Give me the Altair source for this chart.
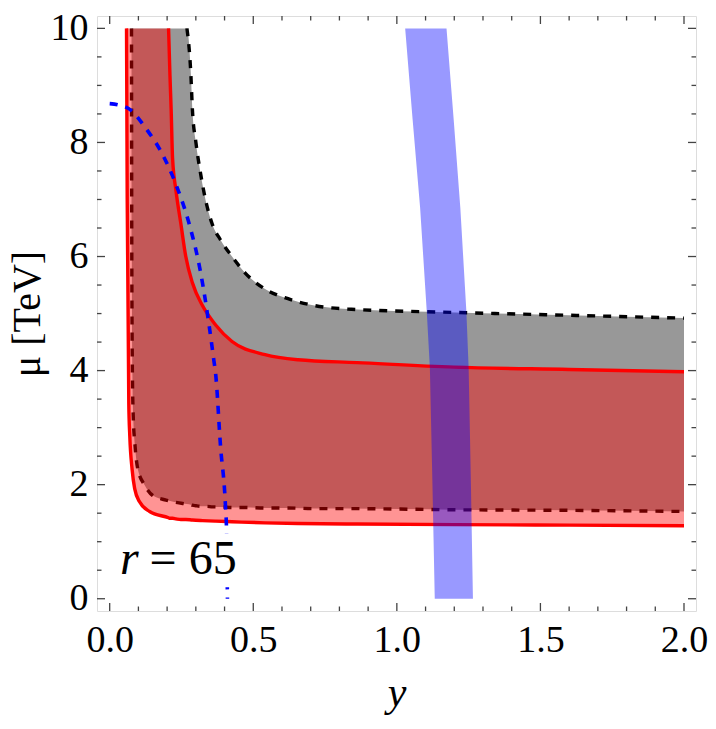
import altair as alt
import pandas as pd

# ---- red (solid-bounded) band: x, lower mu, upper mu
red_x  = [0.0586, 0.061, 0.0665, 0.070, 0.078, 0.087, 0.104, 0.139, 0.205, 0.210, 0.214, 0.219,
          0.231, 0.248, 0.265, 0.288, 0.323, 0.369, 0.426, 0.541, 0.656, 0.862, 1.2, 1.6, 2.0]
red_lo = [10.0, 7.0, 3.42, 2.85, 2.27, 1.93, 1.70, 1.53, 1.42, 1.41, 1.41, 1.41,
          1.40, 1.39, 1.39, 1.38, 1.37, 1.36, 1.35, 1.33, 1.32, 1.31, 1.30, 1.29, 1.28]
red_hi = [10.0, 10.0, 10.0, 10.0, 10.0, 10.0, 10.0, 10.0, 10.0, 9.16, 8.58, 7.72,
          7.15, 6.57, 6.00, 5.54, 5.14, 4.80, 4.51, 4.28, 4.19, 4.14, 4.06, 4.02, 3.98]

# ---- gray (dashed-bounded) band
gray_x  = [0.076, 0.077, 0.079, 0.082, 0.088, 0.098, 0.122, 0.150, 0.196, 0.254, 0.269, 0.283,
           0.288, 0.300, 0.317, 0.340, 0.357, 0.386, 0.426, 0.472, 0.541, 0.621, 0.713, 0.828,
           1.2, 1.6, 2.0]
gray_lo = [10.0, 6.0, 4.0, 3.2, 2.7, 2.27, 1.99, 1.81, 1.73, 1.67, 1.66, 1.65,
           1.64, 1.63, 1.62, 1.62, 1.61, 1.61, 1.60, 1.60, 1.59, 1.59, 1.58, 1.58,
           1.56, 1.55, 1.53]
gray_hi = [10.0, 10.0, 10.0, 10.0, 10.0, 10.0, 10.0, 10.0, 10.0, 10.0, 10.0, 9.16,
           8.58, 8.01, 7.44, 6.86, 6.57, 6.29, 6.00, 5.71, 5.43, 5.26, 5.14, 5.08,
           5.02, 4.97, 4.92]

# ---- r = 65 contour (blue dashed)
r65_x  = [0.0, 0.030, 0.070, 0.127, 0.185, 0.231, 0.277, 0.317, 0.346, 0.363, 0.369, 0.386, 0.403, 0.407, 0.410]
r65_mu = [8.68, 8.66, 8.58, 8.24, 7.78, 7.26, 6.57, 5.71, 4.80, 4.17, 3.94, 2.67, 1.64, 1.18, 0.0]

# ---- blue band (left / right edge vs mu)
blue_mu    = [0.0, 2.0, 4.05, 5.05, 6.86, 8.4, 10.0]
blue_left  = [1.132, 1.124, 1.115, 1.104, 1.081, 1.055, 1.029]
blue_right = [1.265, 1.258, 1.250, 1.242, 1.221, 1.198, 1.173]

# ---- annotation
label_box_x = [0.03, 0.44]
label_box_mu = [0.2, 1.15]
label_r_x, label_eq_x, label_mu = 0.036, 0.139, 0.44

# ---- ticks
x_major = [0.0, 0.5, 1.0, 1.5, 2.0]
x_minor = [0.1, 0.2, 0.3, 0.4, 0.6, 0.7, 0.8, 0.9, 1.1, 1.2, 1.3, 1.4, 1.6, 1.7, 1.8, 1.9]
y_major = [0, 2, 4, 6, 8, 10]
y_minor = [0.5, 1, 1.5, 2.5, 3, 3.5, 4.5, 5, 5.5, 6.5, 7, 7.5, 8.5, 9, 9.5]

W, H = 599, 595
FONT = "Liberation Serif"
XS = alt.Scale(domain=[-0.0442, 2.0418], nice=False, zero=False)
YS = alt.Scale(domain=[-0.215, 10.217], nice=False, zero=False)

red_df = pd.DataFrame({"x": red_x, "lo": red_lo, "hi": red_hi})
gray_df = pd.DataFrame({"x": gray_x, "lo": gray_lo, "hi": gray_hi})
r65_df = pd.DataFrame({"x": r65_x, "mu": r65_mu})
blue_df = pd.DataFrame({"mu": blue_mu, "l": blue_left, "r": blue_right})
box_df = pd.DataFrame({"x": [label_box_x[0]], "x2": [label_box_x[1]],
                       "y": [label_box_mu[0]], "y2": [label_box_mu[1]]})
lab_df = pd.DataFrame({"x": [label_r_x, label_eq_x], "mu": [label_mu, label_mu],
                       "t": ["r", "= 65"]})

x_axis = alt.Axis(values=x_major, format=".1f", ticks=False, tickSize=0, domain=False, grid=False,
                  labelFont=FONT, labelFontSize=38, labelColor="black", labelPadding=10,
                  labelFlush=False, labelOverlap=False,
                  title="y", titleFont=FONT, titleFontStyle="italic", titleFontSize=42,
                  titleFontWeight="normal", titleColor="black", titleX=299.5, titleY=94,
                  titleBaseline="alphabetic", titleAlign="center")
y_axis = alt.Axis(values=y_major, format="d", ticks=False, tickSize=0, domain=False, grid=False,
                  labelFont=FONT, labelFontSize=38, labelColor="black", labelPadding=9,
                  labelFlush=False, labelOverlap=False,
                  title="μ [TeV]", titleFont=FONT, titleFontSize=40, titleFontWeight="normal",
                  titleColor="black", titleX=-58, titleY=297.5, titleAngle=-90,
                  titleBaseline="alphabetic", titleAlign="center")

def X(f):
    return alt.X(f, type="quantitative", scale=XS, axis=x_axis)

def Y(f):
    return alt.Y(f, type="quantitative", scale=YS, axis=y_axis)

gray_area = alt.Chart(gray_df).mark_area(color="#989898", interpolate="monotone").encode(
    x=X("x"), y=Y("lo"), y2="hi")

dash_style = dict(color="black", strokeWidth=3.4, strokeDash=[8, 8], strokeCap="butt",
                  interpolate="monotone")
gray_lower = alt.Chart(gray_df).mark_line(**dash_style).encode(x=X("x"), y=Y("lo"))
gray_upper = alt.Chart(gray_df).transform_filter("datum.x >= 0.269").mark_line(**dash_style).encode(
    x=X("x"), y=Y("hi"))

red_area = alt.Chart(red_df).mark_area(color="#FF0000", opacity=0.42, interpolate="monotone").encode(
    x=X("x"), y=Y("lo"), y2="hi")
red_style = dict(color="#FF0000", strokeWidth=3.4, interpolate="monotone")
red_lower = alt.Chart(red_df).mark_line(**red_style).encode(x=X("x"), y=Y("lo"))
red_upper = alt.Chart(red_df).transform_filter("datum.x >= 0.205").mark_line(**red_style).encode(
    x=X("x"), y=Y("hi"))

r65_line = alt.Chart(r65_df).mark_line(color="#0000FF", strokeWidth=3.6, strokeDash=[8, 8],
                                        strokeCap="butt", interpolate="monotone").encode(
    x=X("x"), y=Y("mu"))

blue_band = alt.Chart(blue_df).mark_area(orient="horizontal", color="#0000FF", opacity=0.4).encode(
    y=Y("mu"), x=X("l"), x2="r")

box = alt.Chart(box_df).mark_rect(color="white").encode(x=X("x"), x2="x2", y=Y("y"), y2="y2")

lab_r = alt.Chart(lab_df).transform_filter("datum.t == 'r'").mark_text(
    align="left", baseline="alphabetic", font=FONT, fontSize=48, fontStyle="italic", color="black"
).encode(x=X("x"), y=Y("mu"), text="t:N")
lab_eq = alt.Chart(lab_df).transform_filter("datum.t != 'r'").mark_text(
    align="left", baseline="alphabetic", font=FONT, fontSize=48, color="black"
).encode(x=X("x"), y=Y("mu"), text="t:N")

TC = "#444444"
def xticks(vals, y0, y1):
    return alt.Chart(pd.DataFrame({"v": vals})).mark_rule(color=TC, strokeWidth=1.3).encode(
        x=X("v"), y=alt.value(y0), y2=alt.value(y1))

def yticks(vals, x0, x1):
    return alt.Chart(pd.DataFrame({"v": vals})).mark_rule(color=TC, strokeWidth=1.3).encode(
        y=Y("v"), x=alt.value(x0), x2=alt.value(x1))

tick_layers = [
    xticks(x_major, H, H - 8), xticks(x_minor, H, H - 4.5),
    xticks(x_major, 0, 8), xticks(x_minor, 0, 4.5),
    yticks(y_major, 0, 8), yticks(y_minor, 0, 4.5),
    yticks(y_major, W, W - 8), yticks(y_minor, W, W - 4.5),
]

chart = alt.layer(
    gray_area, gray_lower, gray_upper, red_area, red_lower, red_upper,
    r65_line, blue_band, box, lab_r, lab_eq, *tick_layers
).properties(
    width=W, height=H,
    padding={"left": 89, "top": 8, "right": 12, "bottom": 110},
    autosize=alt.AutoSizeParams(type="none"),
).configure_view(stroke=TC, strokeWidth=1.3, fill="white").configure(background="white")

chart.save("out.html", embed_options={"renderer": "svg", "actions": False})
